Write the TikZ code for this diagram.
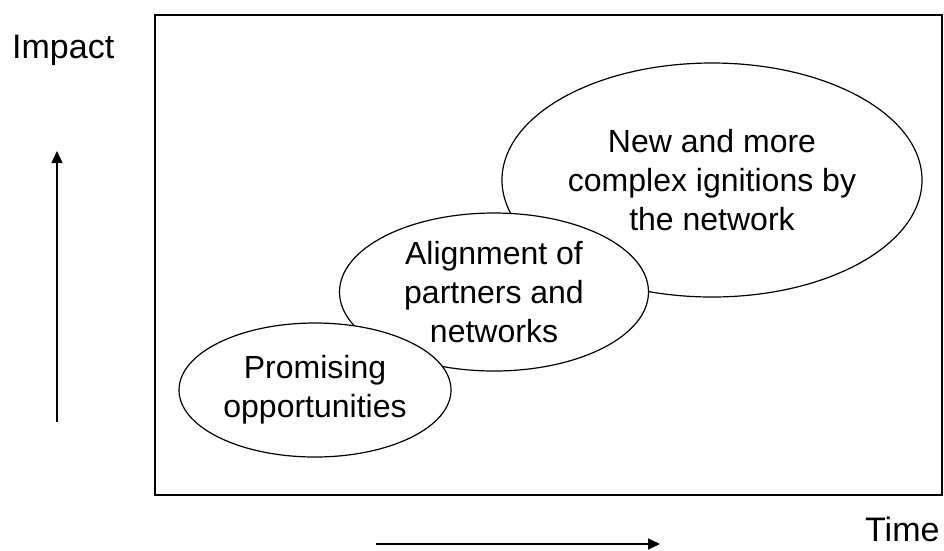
\documentclass[tikz,border=0pt]{standalone}
\usepackage{fontspec}
\setmainfont{Liberation Sans}
\usetikzlibrary{shapes.geometric}
\usetikzlibrary{arrows.meta}

\begin{document}
\begin{tikzpicture}[x=1pt,y=-1pt]
        \tikzset{
          >={Triangle[length=12pt,width=11pt]},
          bubble/.style={
            ellipse,
            draw,
            fill=white,
            line width=1.2pt,
            inner sep=0pt,
            align=center,
            font=\fontsize{32}{39}\selectfont,
          },
          axislabel/.style={
            anchor=base west,
            inner sep=0pt,
            font=\fontsize{34}{40}\selectfont,
          },
          axisarrow/.style={->, line width=1.5pt},
        }
        \useasboundingbox (0,0) rectangle (944,550);
        \draw[line width=1.3pt] (155,15) rectangle (942,495);

        \node[bubble, minimum width=420pt, minimum height=234pt] (ignite) at (712,180)
          {New and more\\complex ignitions by\\the network};
        \node[bubble, minimum width=309pt, minimum height=158pt] (align) at (494,292)
          {Alignment of\\partners and\\networks};
        \node[bubble, minimum width=272pt, minimum height=134pt] (promise) at (315,390)
          {Promising\\opportunities};

        \node[axislabel] (impact) at (12,58) {Impact};
        \node[axislabel] (time) at (865,541) {Time};

        \coordinate (impactlo) at (57,422);
        \coordinate (impacthi) at (57,151);
        \coordinate (timelo) at (376,544);
        \coordinate (timehi) at (660,544);

        \draw[axisarrow] (impactlo) -- (impacthi);
        \draw[axisarrow] (timelo) -- (timehi);
\end{tikzpicture}
\end{document}
